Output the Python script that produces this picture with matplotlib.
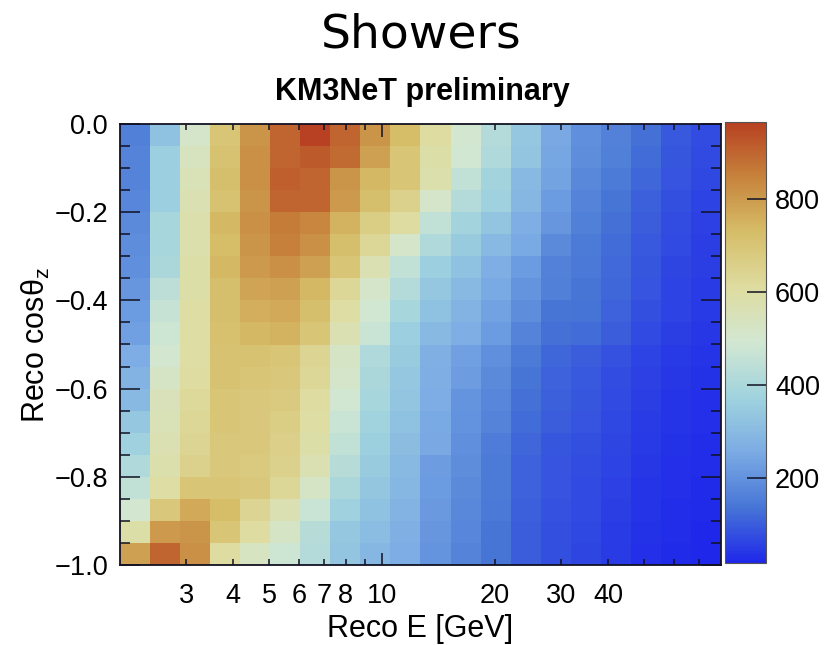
import numpy as np
import matplotlib
matplotlib.use('Agg')
import matplotlib.pyplot as plt
from matplotlib.colors import LinearSegmentedColormap
from matplotlib.ticker import FixedLocator, FuncFormatter

# Binning of the shower sample
e_min, e_max, n_e_bins = 2.0, 80.0, 20
cos_min, cos_max, n_cos_bins = -1.0, 0.0, 20

# Event counts per bin, one row per cos(theta_z) bin, listed from cos=0 down to cos=-1,
# columns are the 20 log-spaced energy bins from 2 to 80 GeV
counts_top_down = [
    [160, 320, 510, 700, 810, 900, 965, 900, 810, 730, 610, 500, 420, 340, 250, 195, 165, 130, 95, 75],
    [170, 360, 540, 710, 820, 900, 920, 890, 790, 700, 590, 490, 410, 330, 245, 190, 160, 125, 90, 72],
    [170, 360, 560, 720, 820, 910, 900, 810, 740, 700, 580, 450, 380, 300, 240, 180, 150, 115, 85, 68],
    [175, 360, 570, 710, 810, 900, 900, 800, 720, 650, 510, 420, 370, 290, 220, 170, 140, 105, 80, 62],
    [185, 390, 580, 740, 820, 860, 840, 750, 670, 610, 450, 380, 330, 265, 210, 160, 130, 100, 75, 58],
    [190, 390, 580, 730, 810, 850, 820, 720, 630, 510, 410, 350, 300, 255, 185, 150, 125, 95, 70, 55],
    [195, 400, 590, 740, 800, 820, 790, 700, 570, 450, 360, 320, 265, 220, 165, 145, 120, 90, 65, 52],
    [210, 440, 590, 720, 780, 790, 740, 630, 510, 420, 340, 300, 255, 205, 160, 140, 115, 85, 62, 48],
    [220, 460, 600, 720, 760, 770, 720, 600, 490, 390, 320, 280, 235, 190, 140, 135, 110, 80, 60, 46],
    [230, 480, 600, 715, 740, 750, 700, 570, 470, 360, 300, 265, 220, 170, 130, 125, 100, 72, 55, 43],
    [260, 500, 600, 710, 710, 700, 640, 520, 410, 350, 270, 230, 195, 150, 118, 100, 82, 62, 47, 38],
    [280, 520, 610, 710, 700, 690, 630, 510, 400, 340, 265, 225, 185, 140, 110, 95, 76, 56, 42, 35],
    [300, 550, 620, 700, 690, 680, 610, 490, 390, 330, 260, 205, 175, 133, 105, 90, 72, 52, 40, 32],
    [340, 560, 630, 700, 690, 670, 600, 470, 375, 320, 255, 200, 170, 125, 100, 86, 68, 48, 37, 30],
    [370, 570, 640, 690, 690, 660, 590, 450, 365, 310, 250, 195, 155, 115, 90, 80, 64, 45, 35, 28],
    [410, 580, 650, 690, 680, 650, 570, 430, 350, 300, 225, 190, 150, 110, 88, 76, 60, 42, 32, 26],
    [450, 600, 700, 700, 690, 630, 520, 400, 335, 290, 220, 185, 150, 108, 85, 73, 57, 40, 30, 24],
    [500, 690, 770, 730, 640, 570, 470, 370, 320, 280, 215, 180, 145, 105, 82, 70, 54, 37, 28, 22],
    [590, 800, 810, 700, 610, 520, 430, 340, 305, 270, 210, 175, 140, 100, 80, 68, 51, 35, 26, 20],
    [790, 900, 820, 610, 530, 480, 420, 330, 290, 260, 205, 170, 140, 100, 80, 65, 48, 32, 25, 18],
]

# Axis ticks and labels
e_major_ticks = [10]
e_minor_ticks = [3, 4, 5, 6, 7, 8, 9, 20, 30, 40, 50, 60, 70]
e_labelled = [3, 4, 5, 6, 7, 8, 10, 20, 30, 40]
cos_ticks = [-1.0, -0.8, -0.6, -0.4, -0.2, 0.0]
cos_tick_labels = ['\u22121.0', '\u22120.8', '\u22120.6', '\u22120.4', '\u22120.2', '0.0']
cbar_ticks = [200, 400, 600, 800]

# ROOT "light temperature" palette
palette = ['#1f28ea', '#4775d6', '#7babe4', '#a0d3de', '#d2e7d2',
           '#dedca0', '#d6be69', '#c7843c', '#b74122']
cmap = LinearSegmentedColormap.from_list('light_temperature', palette, N=255)

plt.rcParams['font.family'] = ['Liberation Sans', 'DejaVu Sans']
plt.rcParams['mathtext.fontset'] = 'custom'
plt.rcParams['mathtext.rm'] = 'Liberation Sans'
plt.rcParams['mathtext.it'] = 'Liberation Sans:italic'

e_edges = np.geomspace(e_min, e_max, n_e_bins + 1)
cos_edges = np.linspace(cos_min, cos_max, n_cos_bins + 1)
counts = np.array(counts_top_down, dtype=float)[::-1]

W, H = 837, 645
fig = plt.figure(figsize=(W / 100, H / 100), dpi=100)
ax = fig.add_axes([120 / W, 80 / H, 601 / W, 441 / H])

mesh = ax.pcolormesh(e_edges, cos_edges, counts, cmap=cmap, shading='flat')

ax.set_xscale('log')
ax.set_xlim(e_min, e_max)
ax.set_ylim(cos_min, cos_max)

frame_color = '#111122'
ax.xaxis.set_major_locator(FixedLocator(e_major_ticks))
ax.xaxis.set_minor_locator(FixedLocator(e_minor_ticks))
tick_fmt = FuncFormatter(lambda v, pos: f'{v:g}' if round(v) in e_labelled else '')
ax.xaxis.set_major_formatter(tick_fmt)
ax.xaxis.set_minor_formatter(tick_fmt)
ax.tick_params(axis='x', which='major', direction='in', length=9, width=1.1,
               top=True, labelsize=19.5, pad=13, color=frame_color)
ax.tick_params(axis='x', which='minor', direction='in', length=4.5, width=1.1,
               top=True, labelsize=19.5, pad=13, color=frame_color)

ax.set_yticks(cos_ticks)
ax.set_yticklabels(cos_tick_labels)
ax.set_yticks(np.arange(-0.95, 0.0, 0.05), minor=True)
ax.tick_params(axis='y', which='major', direction='in', length=14.4, width=1.1,
               right=True, labelsize=19.5, pad=8.6, color=frame_color)
ax.tick_params(axis='y', which='minor', direction='in', length=7.2, width=1.1,
               right=True, color=frame_color)

for spine in ax.spines.values():
    spine.set_linewidth(1.3)
    spine.set_color(frame_color)

ax.set_xlabel('Reco E [GeV]', fontsize=22)
ax.xaxis.set_label_coords(0.5, -0.111)
ax.set_ylabel('Reco cos$\\mathregular{\\theta_z}$', fontsize=22)
ax.yaxis.set_label_coords(-0.113, 0.5)

# Palette axis
cax = fig.add_axes([725 / W, 82 / H, 41 / W, 441 / H])
cb = fig.colorbar(mesh, cax=cax)
cb.set_ticks(cbar_ticks)
cb.minorticks_off()
cax.tick_params(direction='in', length=13.7, width=1.1, labelsize=19.5, pad=6.5,
                color=frame_color)
cb.outline.set_linewidth(0.8)
cb.outline.set_edgecolor('#555555')

fig.text(422 / W, 1 - 100 / H, 'KM3NeT preliminary', ha='center', va='baseline',
         fontsize=22, fontweight='bold')
fig.text(421 / W, 1 - 47 / H, 'Showers', ha='center', va='baseline',
         fontsize=34, family='DejaVu Sans')

fig.savefig('out.png', dpi=100)
